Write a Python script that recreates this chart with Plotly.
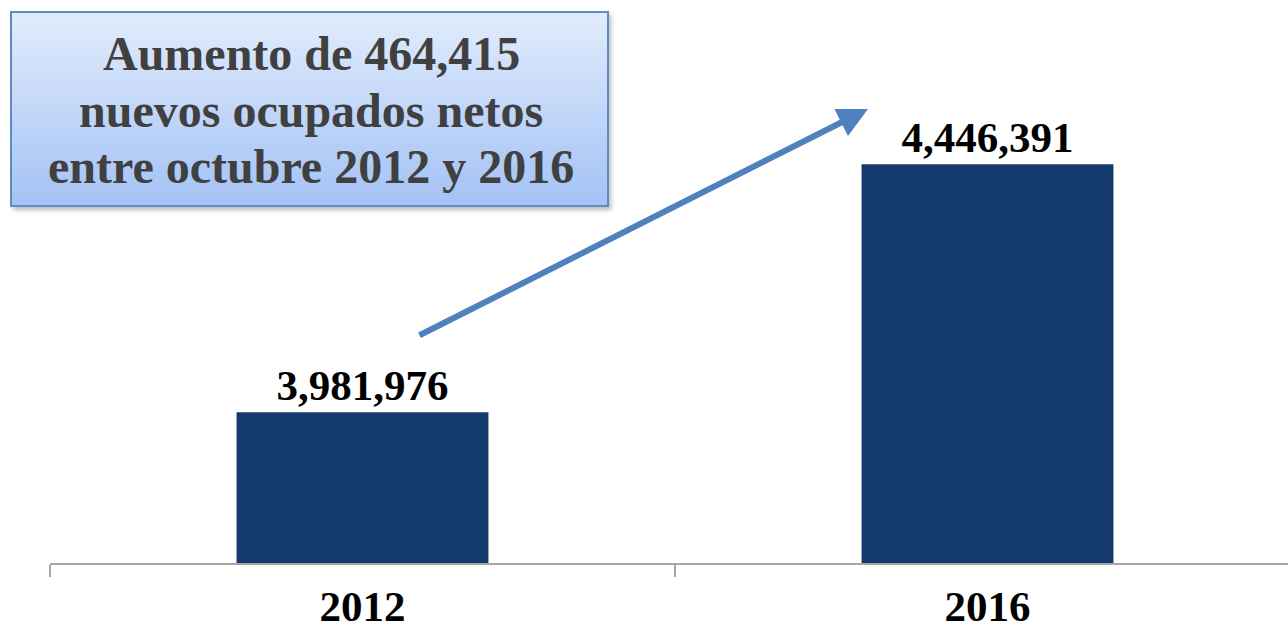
import base64
import plotly.graph_objects as go

years = ["2012", "2016"]
ocupados = [3981976, 4446391]
box_lines = ["Aumento de 464,415", "nuevos ocupados netos", "entre octubre 2012 y 2016"]

W, H = 1288, 631
L, R, T, B = 50, 0, 2, 68
PW, PH = W - L - R, H - T - B

def px_x(px):
    return (px - L) / PW

def px_y(py):
    return (H - B - py) / PH

svg = """<svg xmlns='http://www.w3.org/2000/svg' width='610' height='205' viewBox='0 0 610 205'>
<defs>
<linearGradient id='g' x1='0' y1='0' x2='0' y2='1'>
<stop offset='0' stop-color='#e2ecfc'/>
<stop offset='1' stop-color='#a3c2f5'/>
</linearGradient>
<filter id='f' x='-5%' y='-5%' width='110%' height='115%'><feGaussianBlur stdDeviation='2.5'/></filter>
</defs>
<rect x='3' y='4' width='598' height='195' fill='#7f7f7f' opacity='0.55' filter='url(#f)'/>
<rect x='1' y='1' width='597' height='194' fill='url(#g)' stroke='#5f8ac4' stroke-width='2'/>
</svg>"""
svg_uri = "data:image/svg+xml;base64," + base64.b64encode(svg.encode()).decode()

fig = go.Figure()
fig.add_trace(go.Bar(
    x=years, y=ocupados,
    width=0.403,
    marker=dict(color="#143a6d", line=dict(width=0)),
    texttemplate="<b>%{y:,}</b>",
    textposition="outside",
    cliponaxis=False,
    textfont=dict(family="Liberation Serif", size=43, color="#000000"),
    hoverinfo="skip",
))

annotations = []
for i, line in enumerate(box_lines):
    annotations.append(dict(
        text="<b>" + line + "</b>",
        xref="paper", yref="paper",
        x=px_x(311), y=px_y(53 + 57 * i), xanchor="center", yanchor="middle",
        showarrow=False, align="center",
        font=dict(family="Liberation Serif", size=48, color="#404040"),
    ))
annotations.append(dict(
    text="", xref="paper", yref="paper",
    x=px_x(868), y=px_y(109),
    ax=418 - 868, ay=336 - 109,
    showarrow=True, arrowhead=2, arrowsize=1, arrowwidth=6,
    arrowcolor="#4f81bd", standoff=0,
))

fig.update_layout(
    width=W, height=H,
    margin=dict(l=L, r=R, t=T, b=B, autoexpand=False),
    paper_bgcolor="white",
    plot_bgcolor="rgba(0,0,0,0)",
    showlegend=False,
    font=dict(family="Liberation Serif"),
    xaxis=dict(
        type="category",
        range=[-0.5, -0.5 + PW / 625],
        automargin=False,
        tickson="boundaries",
        tickvals=years, ticktext=["<b>" + y + "</b>" for y in years],
        ticks="outside", ticklen=12, tickwidth=2, tickcolor="#a6a6a6",
        showline=True, linecolor="#a6a6a6", linewidth=2,
        showgrid=False, zeroline=False,
        tickfont=dict(family="Liberation Serif", size=43, color="#000000"),
        ticklabelstandoff=4,
    ),
    yaxis=dict(
        range=[3700000, 4750000],
        automargin=False,
        visible=False, showgrid=False, zeroline=False,
    ),
    images=[dict(
        source=svg_uri, xref="paper", yref="paper",
        x=px_x(10), y=px_y(11), sizex=610 / PW, sizey=205 / PH,
        xanchor="left", yanchor="top", sizing="stretch", layer="above",
    )],
    annotations=annotations,
)

fig.write_html(
    "out.html",
    config={"displayModeBar": False},
    post_script="document.body.style.margin='0';document.body.style.overflow='hidden';",
)
